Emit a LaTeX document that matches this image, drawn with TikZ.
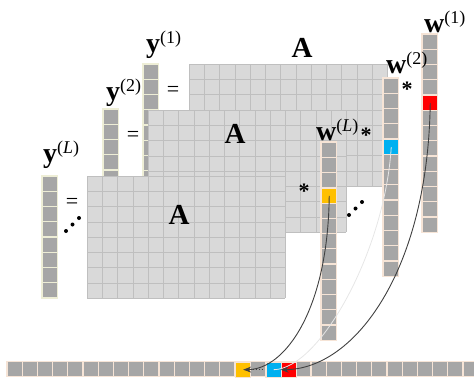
\documentclass[tikz,border=0pt]{standalone}
\usepackage{fontspec}
\setmainfont{Liberation Serif}
\usetikzlibrary{arrows.meta,calc}
\definecolor{mfill}{HTML}{D9D9D9}
\definecolor{mline}{HTML}{BFBFBF}
\definecolor{vfill}{HTML}{A6A6A6}
\definecolor{wline}{HTML}{F6E4D6}
\definecolor{yline}{HTML}{EEEED6}
\definecolor{cred}{HTML}{FF0000}
\definecolor{cblue}{HTML}{00B0F0}
\definecolor{corange}{HTML}{FFC000}
\definecolor{arrcol}{HTML}{404040}
\definecolor{faint}{HTML}{E6E6E6}
\newcommand{\mymtx}[2]{%
  \fill[mfill] (#1,#2) rectangle ++(198.25,122);
  \foreach \i in {0,...,13} \draw[mline] ({#1+\i*15.25},#2) -- ++(0,122);
  \foreach \j in {0,...,8} \draw[mline] (#1,{#2+\j*15.25}) -- ++(198.25,0);
}
\newcommand{\myvec}[4]{%
  \foreach \j in {1,...,#3} \draw[#4, fill=vfill, line width=1.2pt] (#1,{#2+(\j-1)*15.25}) rectangle ++(15.25,15.25);
}
\newcommand{\vlab}[2]{\textbf{#1}\raisebox{9pt}{\fontsize{18}{18}\selectfont(#2)}}
\begin{document}
\begin{tikzpicture}[x=1pt,y=-1pt,
  vcell/.style={draw=wline, line width=1.2pt, minimum size=15.25pt, inner sep=0pt, anchor=north west},
  lab/.style={font=\fontsize{28}{28}\selectfont, inner sep=0pt, anchor=base west},
  bigA/.style={font=\fontsize{29}{29}\selectfont\bfseries, inner sep=0pt},
  eqs/.style={font=\fontsize{22}{22}\selectfont, inner sep=0pt},
  star/.style={font=\fontsize{22}{22}\selectfont\bfseries, inner sep=0pt},
  arr/.style={draw=arrcol, line width=0.9pt, -{Stealth[length=8pt,width=6pt]}},
  dotc/.style={fill=black, circle, inner sep=0pt, minimum size=4pt}]
\useasboundingbox (0,0) rectangle (474,381);
% matrices and y vectors
\mymtx{189}{64}
\myvec{143}{64}{8}{yline}
\mymtx{148}{110}
\myvec{103}{109}{8}{yline}
\mymtx{87}{176}
\myvec{42}{176}{8}{yline}
% w vectors
\myvec{422}{34}{13}{wline}
\node[vcell, fill=cred] (wr) at (422,{34+4*15.25}) {};
\myvec{383}{78}{13}{wline}
\node[vcell, fill=cblue] (wb) at (383,{78+4*15.25}) {};
\myvec{321}{142}{13}{wline}
\node[vcell, fill=corange] (wo) at (321,{142+3*15.25}) {};
% bottom vector
\foreach \i in {0,...,30} \draw[wline, fill=vfill, line width=1.2pt] ({7+\i*15.2},361.5) rectangle ++(15.2,15.2);
\node[vcell, minimum size=15.2pt, fill=corange] (bo) at ({7+15*15.2},361.5) {};
\node[vcell, minimum size=15.2pt, fill=cblue] (bb) at ({7+17*15.2},361.5) {};
\node[vcell, minimum size=15.2pt, fill=cred] (br) at ({7+18*15.2},361.5) {};
% labels
\node[bigA] (A1) at (302,48) {A};
\node[bigA] (A2) at (235,134) {A};
\node[bigA] (A3) at (179,215) {A};
\node[lab] (ly1) at (146,52) {\vlab{y}{1}};
\node[lab] (ly2) at (106,100) {\vlab{y}{2}};
\node[lab] (lyL) at (43,162) {\vlab{y}{\textit{L}}};
\node[lab] (lw1) at (424,32) {\vlab{w}{1}};
\node[lab] (lw2) at (386,73) {\vlab{w}{2}};
\node[lab] (lwL) at (316,140) {\vlab{w}{\textit{L}}};
\node[eqs] (e1) at (173,91) {=};
\node[eqs] (e2) at (133,136) {=};
\node[eqs] (e3) at (72,203) {=};
\node[star] (s1) at (407,89) {*};
\node[star] (s2) at (366,135) {*};
\node[star] (s3) at (304,191) {*};
\node[dotc] (d1) at (66,231) {};
\node[dotc] (d2) at (72.5,224.5) {};
\node[dotc] (d3) at (79,218) {};
\node[dotc] (d4) at (349,215) {};
\node[dotc] (d5) at (355.5,208.5) {};
\node[dotc] (d6) at (362,202) {};
% arrows
\draw[faint, line width=0.8pt] (wb.center) .. controls (385,250) and (320,369) .. (bb.center);
\draw[draw=none, -{Stealth[length=8pt,width=6pt,color=arrcol]}] ($(bb.center)+(6,0)$) -- (bb.center);
\draw[arr] (wr.center) .. controls (428,270) and (355,369) .. (br.west);
\draw[arr] (wo.center) .. controls (328,310) and (285,369) .. (bo.center);
\coordinate (dt1) at (253,369.5);
\coordinate (dt2) at (263,369.5);
\draw[arrcol, line width=0.9pt, dotted] (dt1) -- (dt2);
\end{tikzpicture}
\end{document}
